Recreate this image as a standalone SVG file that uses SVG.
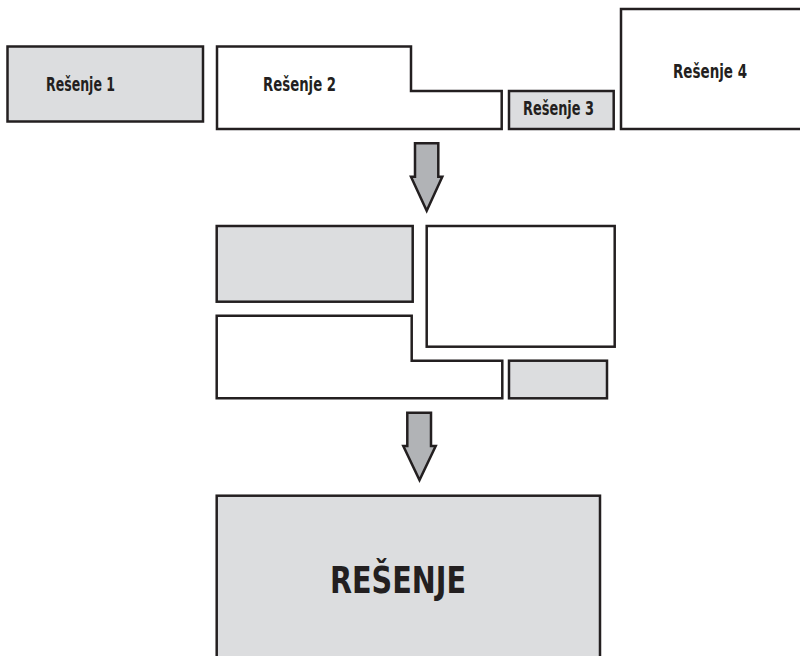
<svg xmlns="http://www.w3.org/2000/svg" width="800" height="656" viewBox="0 0 800 656">
<style>
.box{stroke:#231f20;stroke-width:2.5;stroke-linejoin:miter}
.g{fill:#dcdddf}
.w{fill:#ffffff}
.arrow{fill:#b1b3b6;stroke:#231f20;stroke-width:2.5;stroke-linejoin:miter}
.lbl{font-family:"DejaVu Sans Condensed","DejaVu Sans",sans-serif;font-weight:bold;fill:#231f20}
</style>
<rect width="800" height="656" fill="#ffffff"/>
<g id="resenje1">
<rect class="box g" x="7.5" y="46.5" width="195.5" height="75"/>
<text class="lbl" x="46" y="90.5" font-size="19" textLength="69" lengthAdjust="spacingAndGlyphs">Rešenje 1</text>
</g>
<g id="resenje2">
<path class="box w" d="M217,46.5 H411 V91 H501.7 V129 H217 Z"/>
<text class="lbl" x="263" y="90.5" font-size="19" textLength="73" lengthAdjust="spacingAndGlyphs">Rešenje 2</text>
</g>
<g id="resenje3">
<rect class="box g" x="509" y="91" width="104.7" height="38"/>
<text class="lbl" x="523" y="115" font-size="19" textLength="71" lengthAdjust="spacingAndGlyphs">Rešenje 3</text>
</g>
<g id="resenje4">
<rect class="box w" x="621" y="9" width="190" height="120"/>
<text class="lbl" x="673" y="77.5" font-size="19" textLength="74" lengthAdjust="spacingAndGlyphs">Rešenje 4</text>
</g>
<g id="connectors">
<path class="arrow" d="M415,143.3 H438.3 V176.7 H442.3 L426.7,210.7 L411,176.7 H415 Z"/>
<path class="arrow" d="M407.3,412.7 H431 V446 H435.7 L419.5,480 L403.3,446 H407.3 Z"/>
</g>
<g id="mid-gray">
<rect class="box g" x="216.7" y="226" width="196" height="75.7"/>
</g>
<g id="mid-white">
<rect class="box w" x="426.7" y="226" width="188" height="120.7"/>
</g>
<g id="mid-step">
<path class="box w" d="M216.7,315.7 H411.7 V360.7 H502.3 V398.3 H216.7 Z"/>
</g>
<g id="mid-small">
<rect class="box g" x="509" y="360.7" width="98" height="37.6"/>
</g>
<g id="resenje">
<rect class="box g" x="216.7" y="495.7" width="383.3" height="180"/>
<text class="lbl" x="330" y="593.3" font-size="38" textLength="136" lengthAdjust="spacingAndGlyphs">REŠENJE</text>
</g>
</svg>
